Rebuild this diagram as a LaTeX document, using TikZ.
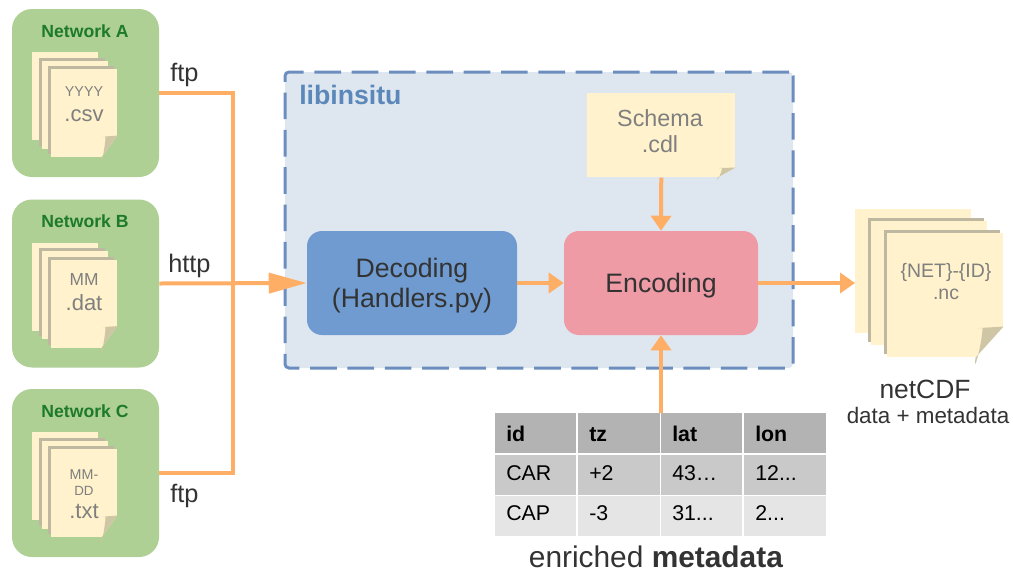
\documentclass[tikz,border=0pt]{standalone}
\usepackage{fontspec}
\setmainfont{Liberation Sans}
\usetikzlibrary{arrows.meta,positioning,shadows}

\definecolor{netgreen}{HTML}{AFD095}
\definecolor{nettext}{HTML}{1D7A2C}
\definecolor{paper}{HTML}{FFF2CC}
\definecolor{papershade}{HTML}{CFC6A6}
\definecolor{sheetshadow}{HTML}{BFB8A0}
\definecolor{flow}{HTML}{FFAE66}
\definecolor{framefill}{HTML}{DEE6F0}
\definecolor{frameline}{HTML}{6C8EBF}
\definecolor{framename}{HTML}{5B88B8}
\definecolor{decode}{HTML}{6F9BD1}
\definecolor{encode}{HTML}{EE9BA6}
\definecolor{ink}{HTML}{333333}
\definecolor{filetext}{HTML}{7F7F7F}

\newdimen\Px
\Px=0.75pt
\newcommand{\cut}{...}

\tikzset{
    netbox/.style={fill=netgreen,minimum width=147*\Px,minimum height=168*\Px,rounded corners=20*\Px,inner sep=0pt},
    nettitle/.style={font=\fontsize{13.2}{15}\selectfont\bfseries,text=nettext},
    blockbox/.style={minimum height=104*\Px,rounded corners=15*\Px,inner sep=0pt},
    blocktext/.style={font=\fontsize{20}{22.5}\selectfont,text=ink,align=center,inner sep=0pt},
    sheet/.style={fill=paper,inner sep=0pt,anchor=north west},
    shadedsheet/.style={sheet,drop shadow={shadow xshift=-3*\Px,shadow yshift=3*\Px,fill=sheetshadow,opacity=1}},
    filelabel/.style={text=filetext,align=center,inner sep=0pt},
    flowline/.style={draw=flow,line width=3pt},
    flowarrow/.style={flowline,-{Triangle[length=11.25pt,width=15pt]}},
    biglabel/.style={font=\fontsize{19}{23}\selectfont,text=ink,inner sep=0pt},
    cell/.style={anchor=north west,inner sep=0pt,minimum height=40*\Px},
}

% paper corner: node, fold width, fold height
\newcommand{\pagefold}[3]{
    \fill[foldback] (#1.south east) -- ++(0,-#3) -- ++(-#2,#3) -- cycle;
    \fill[papershade] (#1.south east) ++(0,-#3) .. controls +(-.3*#2,.02*#3) and +(-.6*#2,.02*#3) .. ++(-.75*#2,.05*#3)
        .. controls +(.0,.4*#3) and +(-.1*#2,.7*#3) .. ++(-.25*#2,.95*#3) -- cycle;
}
% three sheets: name, left, top, width, height, step x, step y, fold width, fold height
\newcommand{\filestack}[9]{
    \node[sheet,minimum width=#4*\Px,minimum height=#5*\Px] (#1back) at (#2,#3) {};
    \node[shadedsheet,minimum width=#4*\Px,minimum height=#5*\Px] (#1mid) at (#2+#6,#3+#7) {};
    \node[shadedsheet,minimum width=#4*\Px,minimum height=#5*\Px] (#1) at (#2+2*#6,#3+2*#7) {};
    \pagefold{#1}{#8}{#9}
}

\begin{document}
\begin{tikzpicture}[x=0.75pt,y=-0.75pt]
    \useasboundingbox (0,0) rectangle (1013,572);

    % sources
    \colorlet{foldback}{netgreen}
    \foreach \tag/\y in {A/93,B/283.5,C/473} {
        \node[netbox] (net\tag) at (85.5,\y) {};
        \node[nettitle] (title\tag) at (85,\y-62) {Network \tag};
        \filestack{file\tag}{32}{\y-41}{66}{88}{9.5}{8.5}{16}{22}
    }
    \node[filelabel] (textA) at (84,104) {\fontsize{10.7}{16}\selectfont YYYY\\[6.5pt]\fontsize{16.5}{19}\selectfont .csv};
    \node[filelabel] (textB) at (84,292) {\fontsize{13}{17}\selectfont MM\\[7pt]\fontsize{16.5}{19}\selectfont .dat};
    \node[filelabel] (textC) at (84,494) {\fontsize{10.7}{12}\selectfont MM-\\DD\\[5.5pt]\fontsize{16.5}{19}\selectfont .txt};

    % libinsitu block
    \node[fill=framefill,draw=frameline,line width=2.25pt,dash pattern=on 20pt off 8pt,rounded corners=3pt,
        minimum width=508*\Px,minimum height=296*\Px,inner sep=0pt] (frame) at (539,220) {};
    \node[font=\fontsize{20}{24}\selectfont\bfseries,text=framename,inner sep=0pt,anchor=base west] (framelabel) at (299,104) {libinsitu};
    \node[blockbox,fill=decode,minimum width=210*\Px] (decoding) at (412,283) {};
    \node[blocktext] (decodingtext) at (412,286) {Decoding\\(Handlers.py)};
    \node[blockbox,fill=encode,minimum width=194*\Px] (encoding) at (661,283) {};
    \node[blocktext] (encodingtext) at (661,286) {Encoding};
    \colorlet{foldback}{framefill}
    \node[sheet,minimum width=148*\Px,minimum height=84*\Px] (schema) at (587,93) {};
    \pagefold{schema}{18}{10}
    \node[filelabel,font=\fontsize{17.5}{20}\selectfont] (schematext) at (660,131) {Schema\\.cdl};

    % output files
    \colorlet{foldback}{white}
    \filestack{out}{855}{209}{116}{124}{16}{12}{28}{31}
    \node[filelabel,font=\fontsize{14.6}{16.5}\selectfont] (outtext) at (946,282) {\{NET\}-\{ID\}\\.nc};
    \node[biglabel,font=\fontsize{19.8}{23}\selectfont] (netcdf) at (925,389) {netCDF};
    \node[biglabel,font=\fontsize{16.8}{20}\selectfont,below=6pt of netcdf,xshift=3*\Px] (netcdfsub) {data + metadata};

    % metadata table
    \foreach \r/\y/\base/\shade/\weight/\a/\b/\c/\d in {
        1/413/441/B3B3B3/\bfseries/id/tz/lat/lon,
        2/454.5/480.5/C9C9C9//CAR/+2/43…/12\cut,
        3/495.5/520.5/E5E5E5//CAP/-3/31\cut/2\cut} {
        \definecolor{rowshade}{HTML}{\shade}
        \foreach \col/\x/\wide/\txt in {1/495/81/\a,2/578/82/\b,3/661/81/\c,4/744/82/\d} {
            \node[fill=rowshade] (bg\r\col) [cell,minimum width=\wide*\Px] at (\x,\y) {};
            \node[inner sep=0pt,anchor=base west,font=\fontsize{16}{19}\selectfont\weight] (cell\r\col) at (\x+11,\base) {\txt};
        }
    }
    \node[biglabel,font=\fontsize{22.4}{26}\selectfont] (tablename) at (656,557) {enriched \textbf{metadata}};

    % connectors
    \coordinate (trunk) at (233,283);
    \draw[flowline] (netA.east) -| (trunk) |- (netC.east);
    \draw[flowline,-{Triangle[length=28.5pt,width=15pt]}] (netB.east) -- (decoding.west);
    \draw[flowarrow] (decoding.east) -- (encoding.west);
    \draw[flowarrow] (schema.south) -- (encoding.north);
    \draw[flowarrow] (bg13.north west) -- (encoding.south);
    \draw[flowarrow] (encoding.east) -- (encoding.east -| outback.west);
    \node[biglabel,anchor=base west] (ftpA) at (170,81) {ftp};
    \node[biglabel,anchor=base west] (httpB) at (168,272) {http};
    \node[biglabel,anchor=base west] (ftpC) at (170,502) {ftp};
\end{tikzpicture}
\end{document}
